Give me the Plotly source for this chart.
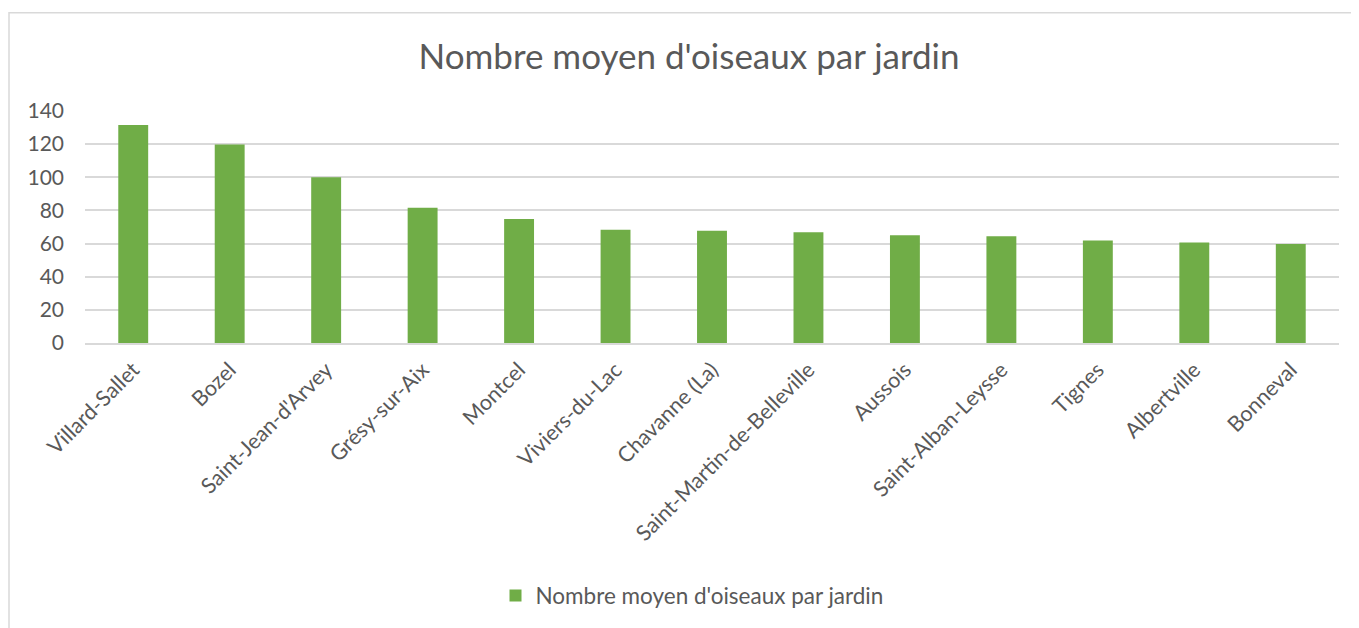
import plotly.graph_objects as go

communes = ["Villard-Sallet", "Bozel", "Saint-Jean-d'Arvey", "Grésy-sur-Aix", "Montcel",
            "Viviers-du-Lac", "Chavanne (La)", "Saint-Martin-de-Belleville", "Aussois",
            "Saint-Alban-Leysse", "Tignes", "Albertville", "Bonneval"]
moyenne = [131.6, 119.8, 100, 81.6, 74.8, 68.4, 67.8, 66.8, 65, 64.4, 61.8, 60.6, 59.8]
y_ticks = [0, 20, 40, 60, 80, 100, 120, 140]
serie = "Nombre moyen d'oiseaux par jardin"

OFF = 8  # page body margin
W, H = 1359 - OFF, 628 - OFF
L, R, T, B = 85 - OFF, 20, 111 - OFF, 283.5
pw, ph = W - L - R, H - T - B
plot_bottom = T + ph

FONT = "Lato"
GREY = "#595959"

fig = go.Figure(go.Bar(x=communes, y=moyenne, name=serie, marker_color="#70AD47",
                       marker_line_width=0, showlegend=True))

fig.update_layout(
    width=W, height=H,
    margin=dict(l=L, r=R, t=T, b=B),
    paper_bgcolor="white", plot_bgcolor="white",
    bargap=0.69,
    font=dict(family=FONT, color=GREY, size=20),
    title=dict(text="Nombre moyen d'oiseaux par jardin", x=(689 - OFF) / W, xanchor="center",
               y=1 - (57 - OFF) / H, yanchor="middle",
               font=dict(family=FONT, size=35, color=GREY)),
    xaxis=dict(tickangle=-45, tickfont=dict(size=21.5, color=GREY), showgrid=False,
               showline=True, linecolor="#D9D9D9", linewidth=1.5, ticks="",
               ticklabelstandoff=4),
    yaxis=dict(range=[0, 140], tickvals=y_ticks, showgrid=True, gridcolor="#D9D9D9",
               gridwidth=1.5, zeroline=False, showline=False,
               tickfont=dict(size=21, color=GREY), ticklabelstandoff=20),
    legend=dict(orientation="h", x=(692 - OFF - L) / pw, xanchor="center",
                y=(plot_bottom - (597 - OFF)) / ph, itemwidth=30,
                yanchor="middle", font=dict(size=22.5, color=GREY)),
    shapes=[dict(type="rect", xref="paper", yref="paper",
                 x0=(9 - OFF - L) / pw, x1=(W + 10 - L) / pw,
                 y0=(plot_bottom - (H + 10)) / ph, y1=(plot_bottom - (12 - OFF)) / ph,
                 line=dict(color="#D9D9D9", width=1.5), fillcolor="rgba(0,0,0,0)",
                 layer="below")],
)

fig.write_html("out.html")
